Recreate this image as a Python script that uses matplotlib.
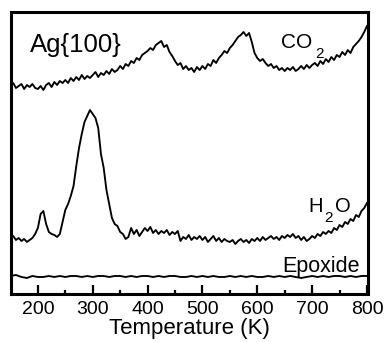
import numpy as np
import matplotlib
matplotlib.use('Agg')
import matplotlib.pyplot as plt
from matplotlib.ticker import MultipleLocator, NullLocator

plt.rcParams['font.family'] = ['Liberation Sans', 'DejaVu Sans']

# temperatura (K), paso de 5 K
temp = np.arange(150, 801, 5)

# CO2 (u.a.)
co2 = [209, 211, 206, 208, 210, 205, 209, 207, 210, 206,
       205, 208, 204, 209, 211, 207, 212, 209, 213, 211,
       214, 211, 216, 213, 217, 214, 219, 215, 218, 216,
       219, 222, 217, 221, 219, 223, 220, 225, 222, 224,
       228, 225, 230, 228, 233, 231, 236, 234, 239, 241,
       243, 246, 244, 249, 251, 253, 247, 249, 242, 238,
       233, 229, 231, 225, 228, 224, 226, 222, 227, 224,
       228, 225, 230, 228, 234, 231, 236, 239, 243, 241,
       246, 249, 253, 257, 259, 262, 258, 261, 252, 241,
       236, 233, 235, 231, 228, 230, 226, 228, 224, 226,
       223, 226, 224, 227, 223, 225, 228, 225, 229, 226,
       229, 231, 228, 233, 230, 235, 232, 237, 234, 239,
       237, 242, 239, 244, 241, 247, 250, 253, 257, 262,
       268]

# H2O (u.a.)
h2o = [56, 58, 54, 56, 53, 55, 52, 54, 56, 60,
       66, 80, 83, 70, 62, 60, 59, 57, 60, 72,
       84, 90, 98, 108, 128, 146, 160, 172, 178, 184,
       180, 176, 166, 140, 126, 104, 90, 76, 70, 68,
       62, 60, 55, 57, 66, 60, 64, 58, 62, 66,
       63, 67, 61, 64, 60, 63, 61, 64, 59, 62,
       60, 63, 53, 57, 55, 59, 54, 57, 55, 58,
       54, 57, 52, 55, 58, 53, 56, 52, 55, 53,
       52, 54, 50, 53, 55, 52, 54, 51, 55, 53,
       56, 53, 57, 54, 56, 58, 55, 57, 54, 58,
       56, 59, 57, 60, 56, 58, 54, 57, 53, 55,
       58, 56, 60, 58, 62, 60, 63, 61, 66, 64,
       69, 67, 72, 70, 75, 73, 79, 77, 83, 86,
       91]

# epoxido, paso de 10 K
temp_ep = np.arange(150, 801, 10)
epox = [18, 19, 17, 16, 18, 17, 17, 18, 17, 18,
        17, 18, 18, 17, 18, 17, 18, 18, 17, 18,
        18, 17, 18, 17, 18, 18, 17, 18, 17, 18,
        18, 17, 17, 18, 17, 18, 17, 18, 17, 17,
        18, 17, 18, 17, 18, 17, 17, 18, 17, 18,
        17, 18, 17, 16, 17, 18, 17, 18, 17, 18,
        18, 17, 18, 17, 18, 18]

fig = plt.figure(figsize=(3.85, 3.42), dpi=100)
ax = fig.add_axes([0.0286, 0.1404, 0.926, 0.8245])

ax.plot(temp, co2, color='black', lw=1.35)
ax.plot(temp, h2o, color='black', lw=1.35)
ax.plot(temp_ep, epox, color='black', lw=1.35)

ax.set_xlim(151, 801)
ax.set_ylim(0, 282)
ax.xaxis.set_major_locator(MultipleLocator(100))
ax.xaxis.set_minor_locator(MultipleLocator(50))
ax.yaxis.set_major_locator(NullLocator())
ax.tick_params(axis='x', which='major', direction='in', length=6.5, width=1.6,
               labelsize=14, pad=5)
ax.tick_params(axis='x', which='minor', direction='in', length=3, width=1.6)
for s in ax.spines.values():
    s.set_linewidth(2.2)

ax.set_xlabel('Temperature (K)', fontsize=16, labelpad=0)

ax.text(185, 242, 'Ag{100}', fontsize=18.5, va='baseline')
# etiquetas con subindice bajo
ax.text(643, 246, 'CO', fontsize=15, va='baseline')
ax.text(705, 236, '2', fontsize=11, va='baseline')
ax.text(694, 82, 'H', fontsize=14.5, va='baseline')
ax.text(722, 72, '2', fontsize=11, va='baseline')
ax.text(741, 82, 'O', fontsize=14.5, va='baseline')
ax.text(645, 22, 'Epoxide', fontsize=15.5, va='baseline')

fig.savefig('out.png', dpi=100)
